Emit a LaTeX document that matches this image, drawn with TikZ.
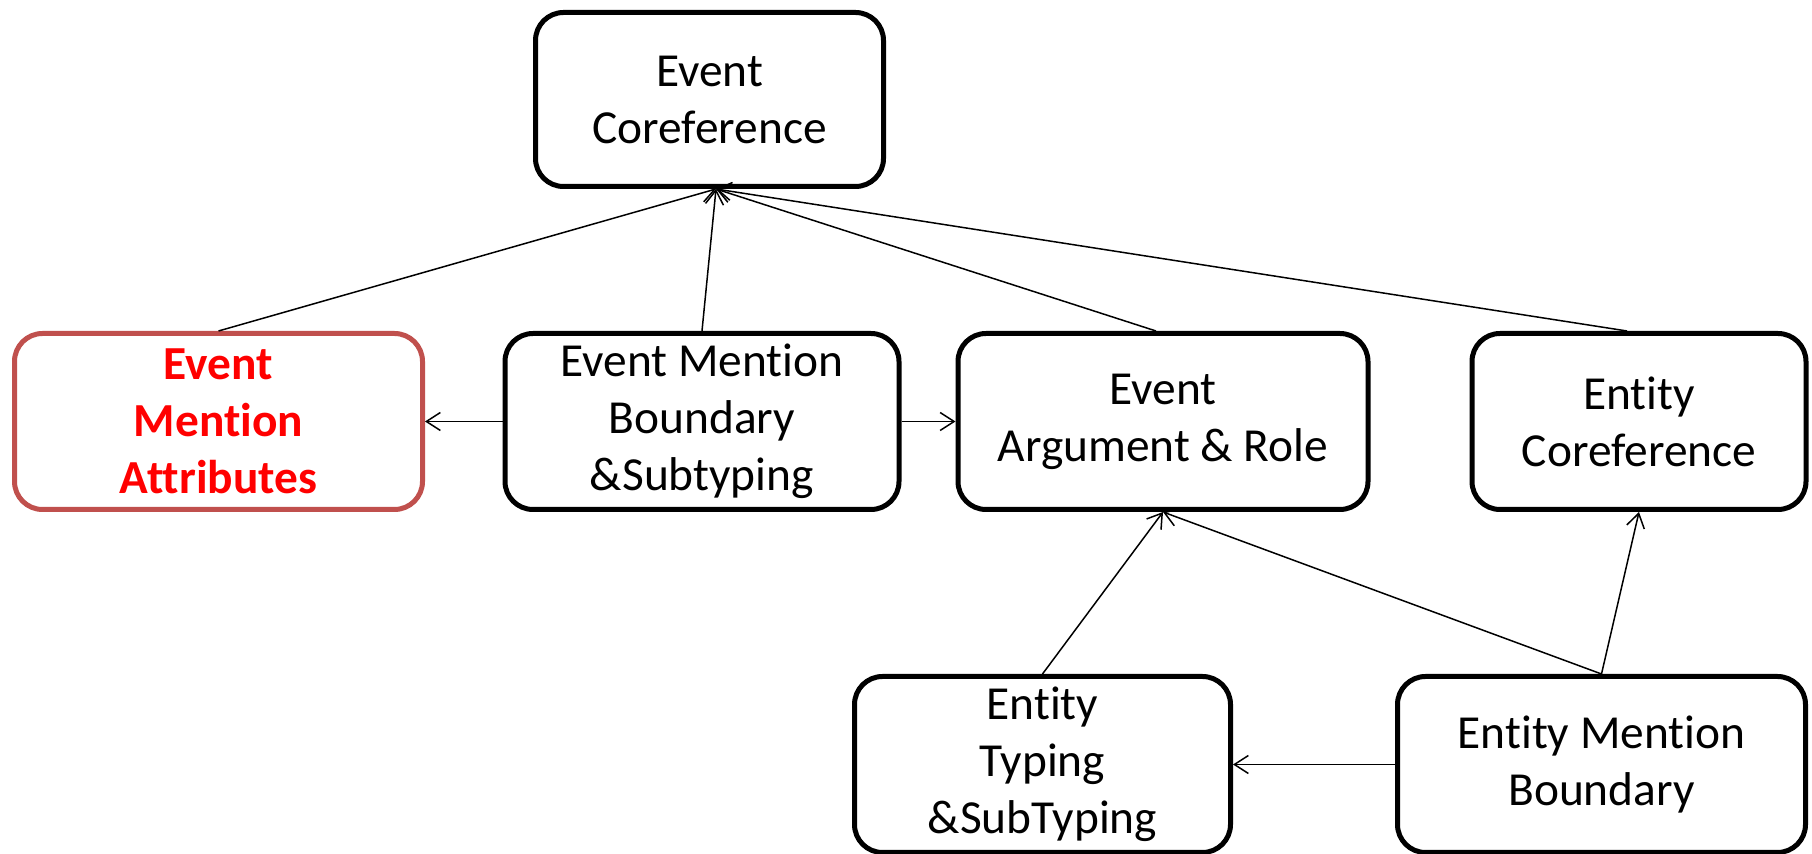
\documentclass[tikz,border=0pt]{standalone}
\usepackage{fontspec}
\setmainfont{Carlito}[Ligatures=NoCommon]
\usetikzlibrary{arrows.meta}
\definecolor{attrred}{RGB}{192,80,77}
\tikzset{
  task/.style={draw, line width=2.5pt, rounded corners=14pt, align=center,
    inner sep=0pt, minimum height=88pt, font=\fontsize{23.7}{28.5}\selectfont},
  dep/.style={line width=0.75pt, -{Straight Barb[length=7pt,width=9pt]}}
}
\begin{document}
\begin{tikzpicture}[x=0.5pt,y=-0.5pt]
  \useasboundingbox (0,0) rectangle (1812,854);

  % top row
  \node[task, minimum width=174pt, minimum height=87pt] (evcoref) at (709.5,99.5) {Event\\Coreference};

  % middle row
  \node[task, draw=attrred, text=red, minimum width=204pt, font=\fontsize{23.7}{28.5}\selectfont\bfseries]
    (attr) at (218.5,421.5) {Event\\Mention\\Attributes};
  \node[task, minimum width=197pt] (evbound) at (702,421.5) {Event Mention\\Boundary\\\&Subtyping};
  \node[task, minimum width=205pt] (argrole) at (1163,421.5) {Event\\Argument \& Role};
  \node[task, minimum width=167pt] (encoref) at (1639,421.5) {Entity\\Coreference};

  % bottom row
  \node[task, minimum width=188pt] (entype) at (1042.5,764.5) {Entity\\Typing\\\&SubTyping};
  \node[task, minimum width=204pt] (enbound) at (1601.5,764.5) {Entity Mention\\Boundary};

  % all arrows into Event Coreference meet at one point
  \coordinate (evin) at ([xshift=3.25pt]evcoref.south);
  \draw[dep] (attr.north) -- (evin);
  \draw[dep] (evbound.north) -- (evin);
  \draw[dep] ([xshift=-3.5pt]argrole.north) -- (evin);
  \draw[dep] ([xshift=-6pt]encoref.north) -- (evin);

  \draw[dep] (evbound.west) -- (attr.east);
  \draw[dep] (evbound.east) -- (argrole.west);

  \draw[dep] (entype.north) -- (argrole.south);
  \draw[dep] (enbound.north) -- (argrole.south);
  \draw[dep] (enbound.north) -- (encoref.south);
  \draw[dep] (enbound.west) -- (entype.east);
\end{tikzpicture}
\end{document}
